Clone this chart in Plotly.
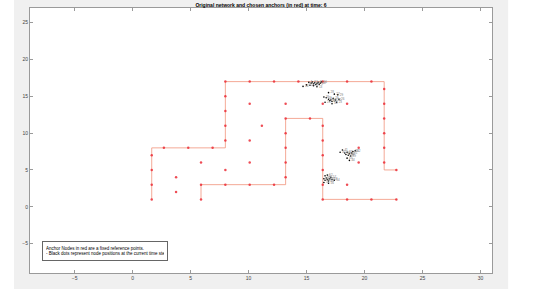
import plotly.graph_objects as go

# ---- data ----
outer_x = [1.65, 1.65, 8.0, 8.0, 21.7, 21.7, 22.8]
outer_y = [1, 8, 8, 17, 17, 5, 5]
inner_x = [5.9, 5.9, 13.2, 13.2, 16.4, 16.4, 22.8]
inner_y = [1, 3, 3, 12, 12, 1, 1]

anchor_x = [1.65, 1.65, 1.65, 1.65, 2.7, 4.8, 6.9,
            8.0, 8.0, 8.0, 8.0, 8.0,
            10.1, 12.2, 14.3, 16.4, 18.5, 20.6,
            21.7, 21.7, 21.7, 21.7, 21.7, 21.7, 22.75,
            3.75, 3.75, 5.9, 8.0, 10.1, 13.2, 16.4, 18.5, 11.15, 10.1, 10.1, 19.5, 19.5,
            5.9, 5.9, 8.0, 10.1, 12.2,
            13.2, 13.2, 13.2, 13.2, 13.2, 15.3,
            16.4, 16.4, 16.4, 16.4, 16.4, 16.4,
            18.5, 20.6, 22.75, 18.5]
anchor_y = [7, 5, 3, 1, 8, 8, 8,
            9, 11, 13, 15, 17,
            17, 17, 17, 17, 17, 17,
            16, 14, 12, 10, 8, 6, 5,
            4, 2, 6, 5, 14, 14, 14, 14, 11, 9, 6, 8, 6,
            3, 1, 3, 3, 3,
            4, 6, 8, 10, 12, 12,
            11, 9, 7, 5, 3, 1,
            1, 1, 1, 3]

nodes1_x = [15.2, 15.4, 15.5, 15.6, 15.7, 15.8, 15.9, 16.0, 16.1, 16.2, 15.3, 15.6, 15.9, 14.7, 15.0, 16.3]
nodes1_y = [16.9, 16.8, 16.95, 16.7, 16.85, 16.6, 16.75, 16.9, 16.65, 16.8, 16.5, 16.45, 16.3, 16.35, 16.55, 16.95]
nodes2_x = [16.9, 17.1, 17.3, 17.2, 17.0, 17.5, 17.6, 16.7, 16.6, 17.8, 17.4, 16.9, 17.7, 17.2, 16.5]
nodes2_y = [14.6, 14.5, 14.7, 14.3, 14.4, 14.5, 14.2, 14.8, 14.2, 14.6, 15.3, 15.5, 15.2, 14.0, 14.9]
nodes3_x = [18.3, 18.5, 18.7, 18.9, 18.6, 18.4, 19.0, 18.8, 17.9, 18.1, 19.2, 18.5, 18.7]
nodes3_y = [7.3, 7.4, 7.2, 7.3, 7.0, 7.1, 7.5, 6.9, 7.4, 7.7, 7.6, 6.6, 6.3]
nodes4_x = [16.5, 16.6, 16.7, 16.8, 16.9, 17.0, 16.6, 16.8, 17.2, 17.4, 16.5, 16.9, 17.1]
nodes4_y = [3.8, 3.6, 3.9, 3.7, 3.5, 3.8, 4.2, 4.3, 3.7, 3.6, 3.3, 3.2, 4.0]

x_ticks = [-5, 0, 5, 10, 15, 20, 25, 30]
y_ticks = [-5, 0, 5, 10, 15, 20, 25]

title_text = "Original network and chosen anchors (in red) at time: 6"
note_text = ("Anchor Nodes in red are a fixed reference points.<br>"
             "- Black dots represent node positions at the current time step.")

# ---- figure ----
fig = go.Figure()
line_style = dict(color="rgba(240,140,115,0.75)", width=1)
fig.add_trace(go.Scatter(x=outer_x, y=outer_y, mode="lines", line=line_style, hoverinfo="skip"))
fig.add_trace(go.Scatter(x=inner_x, y=inner_y, mode="lines", line=line_style, hoverinfo="skip"))
fig.add_trace(go.Scatter(x=anchor_x, y=anchor_y, mode="markers",
                         marker=dict(color="rgba(235,45,55,0.85)", size=2.5, line=dict(width=0))))

all_nx = nodes1_x + nodes2_x + nodes3_x + nodes4_x
all_ny = nodes1_y + nodes2_y + nodes3_y + nodes4_y
labels = [str(i + 1) for i in range(len(all_nx))]
fig.add_trace(go.Scatter(x=all_nx, y=all_ny, mode="markers+text", text=labels,
                         textposition="middle right",
                         textfont=dict(size=3, color="#777", family="Liberation Sans"),
                         marker=dict(color="black", size=1.6, line=dict(width=0))))

axis_common = dict(showgrid=False, zeroline=False, showline=True, mirror="ticks",
                   linecolor="#9a9a9a", linewidth=1, ticks="inside", ticklen=3,
                   tickcolor="#9a9a9a", tickwidth=1,
                   tickfont=dict(size=5, color="#444", family="Liberation Sans"))
fig.update_xaxes(range=[-8.85, 31.0], tickvals=x_ticks, **axis_common)
fig.update_yaxes(range=[-9, 27], tickvals=y_ticks, **axis_common)

fig.update_layout(
    width=550, height=289,
    margin=dict(l=30, r=58, t=8, b=16, pad=0),
    paper_bgcolor="#f0f0f0", plot_bgcolor="white",
    showlegend=False,
    title=dict(text="<b>" + title_text + "</b>", x=0.4745, xanchor="center",
               y=0.982, yanchor="middle",
               font=dict(size=5, color="black", family="Liberation Sans")),
    shapes=[
        dict(type="rect", xref="paper", yref="paper", x0=-0.1, x1=-0.0346, y0=-0.1, y1=1.1,
             fillcolor="white", line=dict(width=0), layer="below"),
        dict(type="rect", xref="paper", yref="paper", x0=1.035, x1=1.2, y0=-0.1, y1=1.1,
             fillcolor="white", line=dict(width=0), layer="below"),
    ],
    annotations=[
        dict(text=note_text, xref="paper", yref="paper", x=0.026, y=0.122,
             xanchor="left", yanchor="top", showarrow=False, align="left",
             font=dict(size=4.5, color="black", family="Liberation Sans"),
             bordercolor="#666", borderwidth=1, borderpad=3, bgcolor="white",
             width=118, height=12),
    ],
)

fig.write_html("out.html", config={"displayModeBar": False},
               post_script="document.body.style.margin='0';document.body.style.padding='0';")
